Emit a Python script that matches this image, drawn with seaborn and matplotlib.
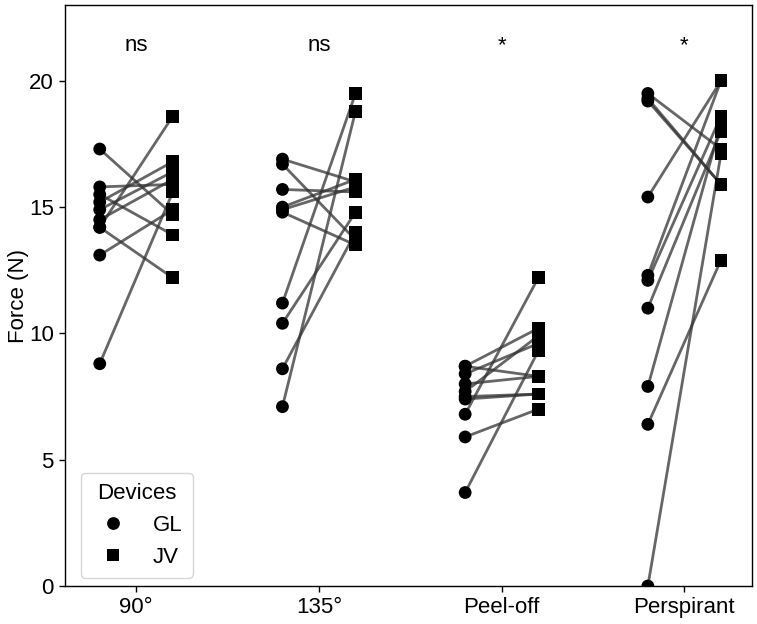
import numpy as np
import pandas as pd
import matplotlib
matplotlib.use("Agg")
import matplotlib.pyplot as plt
import seaborn as sns

conditions = ["90°", "135°", "Peel-off", "Perspirant"]
devices = ["GL", "JV"]
significance = ["ns", "ns", "*", "*"]

gl_90 = [17.3, 15.8, 15.5, 15.2, 14.9, 14.5, 14.2, 14.2, 13.1, 8.8]
jv_90 = [14.7, 15.9, 13.9, 16.8, 16.4, 16.1, 18.6, 12.2, 14.9, 15.6]

gl_135 = [16.9, 16.7, 15.7, 15.0, 14.8, 11.2, 10.4, 8.6, 7.1, 14.9]
jv_135 = [16.0, 13.7, 15.6, 16.1, 13.5, 19.5, 14.8, 14.0, 18.8, 15.8]

gl_peel = [8.7, 8.7, 8.4, 8.0, 7.7, 7.5, 7.4, 6.8, 5.9, 3.7]
jv_peel = [8.3, 10.2, 9.6, 8.3, 9.9, 7.6, 7.6, 12.2, 7.0, 9.3]

gl_persp = [19.5, 19.3, 19.2, 15.4, 12.3, 12.1, 11.0, 7.9, 6.4, 0.0]
jv_persp = [17.3, 15.9, 15.9, 20.0, 20.0, 18.6, 18.0, 18.3, 12.9, 17.1]

gl_all = [gl_90, gl_135, gl_peel, gl_persp]
jv_all = [jv_90, jv_135, jv_peel, jv_persp]

offset = 0.2
rows = []
for ci, cond in enumerate(conditions):
    for pi, (g, j) in enumerate(zip(gl_all[ci], jv_all[ci])):
        pid = f"{cond}_{pi}"
        rows.append(dict(cond=cond, device="GL", force=g, pair=pid, x=ci - offset))
        rows.append(dict(cond=cond, device="JV", force=j, pair=pid, x=ci + offset))
df = pd.DataFrame(rows)

sns.set_theme(style="ticks")
plt.rcParams["font.family"] = ["Liberation Sans", "DejaVu Sans"]
plt.rcParams["text.color"] = "black"
plt.rcParams["axes.labelcolor"] = "black"
plt.rcParams["xtick.color"] = "black"
plt.rcParams["ytick.color"] = "black"

fig = plt.figure(figsize=(7.57, 6.24), dpi=100)
ax = fig.add_axes([0.0859, 0.0609, 0.9075, 0.931])

sns.lineplot(data=df, x="x", y="force", units="pair", estimator=None,
             color="#333333", alpha=0.75, lw=2, ax=ax, legend=False, sort=True)
sns.scatterplot(data=df, x="x", y="force", style="device", markers={"GL": "o", "JV": "s"},
                style_order=devices, color="black", s=85, edgecolor="black", linewidth=0,
                ax=ax, zorder=3)

for ci, sig in enumerate(significance):
    ax.text(ci, 21.4, sig, ha="center", va="center", fontsize=16)

ax.set_xlim(-0.39, 3.37)
ax.set_ylim(0, 23)
ax.set_xticks(range(len(conditions)))
ax.set_xticklabels(conditions, fontsize=16)
ax.set_yticks([0, 5, 10, 15, 20])
ax.tick_params(axis="both", labelsize=16, length=4, width=1, pad=4)
ax.set_xlabel("")
ax.set_ylabel("Force (N)", fontsize=16, labelpad=0)
for sp in ax.spines.values():
    sp.set_color("black")
    sp.set_linewidth(1.0)
    sp.set_visible(True)

leg = ax.legend(title="Devices", loc="lower left", bbox_to_anchor=(0.023, 0.014),
                fontsize=16, title_fontsize=16, borderpad=0.45, handletextpad=0.8,
                labelspacing=0.5, markerscale=1.0, borderaxespad=0)
leg.get_frame().set_edgecolor("#cccccc")

fig.savefig("out.png", dpi=100)
